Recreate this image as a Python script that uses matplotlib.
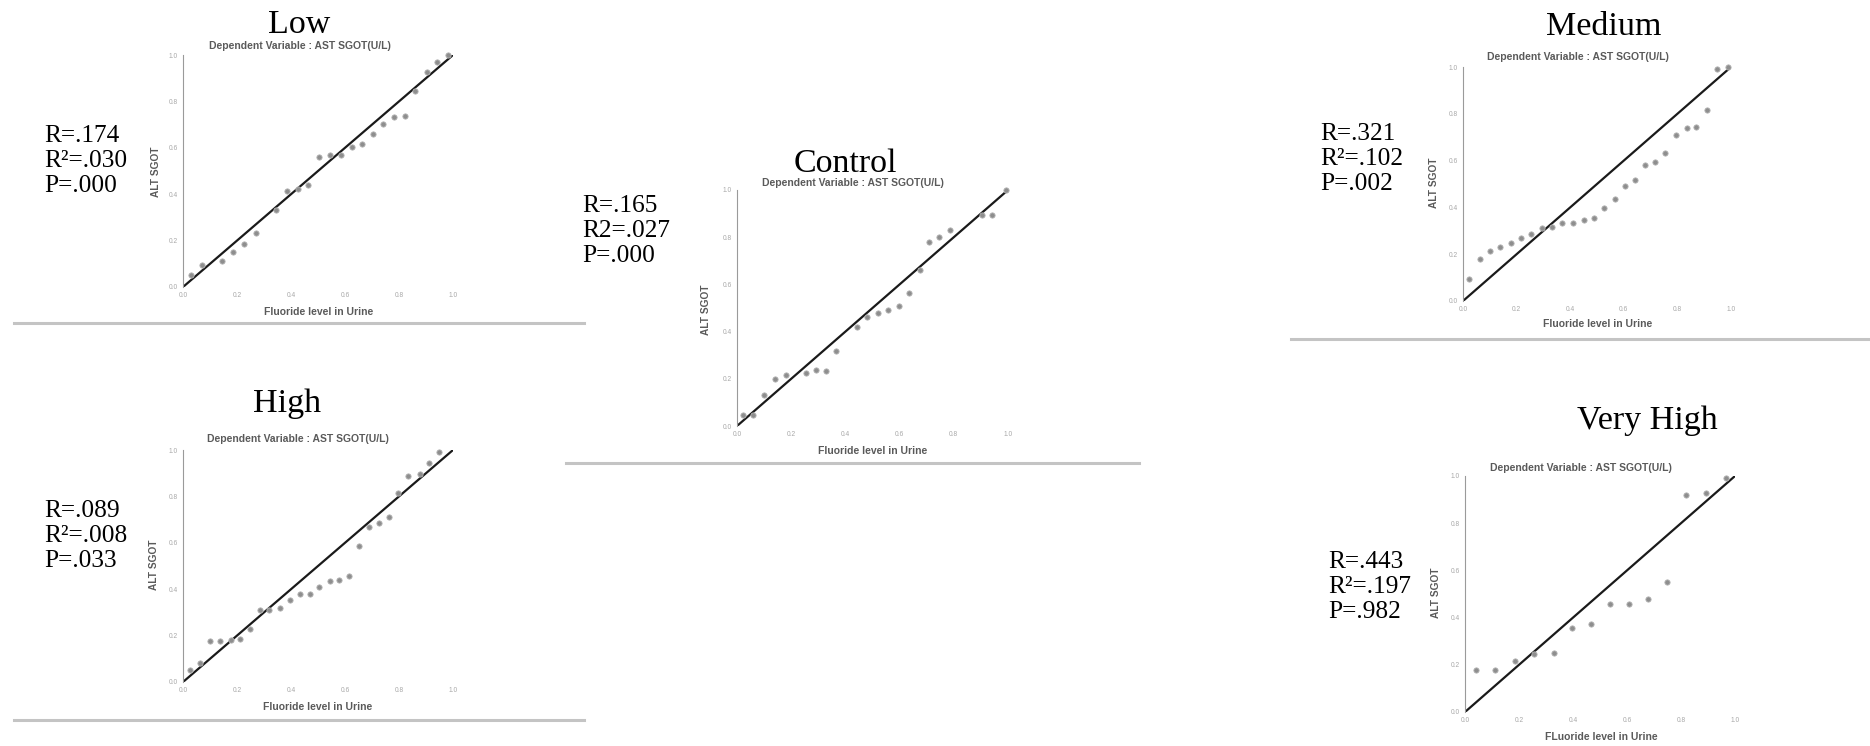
import matplotlib
matplotlib.use("Agg")
import matplotlib.pyplot as plt
from matplotlib.lines import Line2D

plt.rcParams['font.family'] = ['Liberation Serif', 'DejaVu Serif']

# ---------------------------------------------------------------- data
groups = ["Low", "High", "Control", "Medium", "Very High"]

# Normal P-P points (observed cum prob, expected cum prob) per fluoride group
low_obs = [0.028, 0.069, 0.143, 0.186, 0.227, 0.270, 0.344, 0.384, 0.427, 0.464,
           0.505, 0.544, 0.584, 0.625, 0.663, 0.703, 0.742, 0.783, 0.822, 0.860,
           0.903, 0.942, 0.981]
low_exp = [0.053, 0.093, 0.113, 0.151, 0.186, 0.232, 0.330, 0.412, 0.423, 0.440,
           0.560, 0.570, 0.570, 0.605, 0.616, 0.659, 0.703, 0.734, 0.737, 0.846,
           0.928, 0.971, 1.000]

high_obs = [0.027, 0.064, 0.101, 0.136, 0.176, 0.210, 0.247, 0.284, 0.318, 0.359,
            0.396, 0.433, 0.470, 0.504, 0.544, 0.578, 0.615, 0.653, 0.690, 0.727,
            0.764, 0.797, 0.832, 0.877, 0.910, 0.949]
high_exp = [0.050, 0.082, 0.176, 0.176, 0.180, 0.184, 0.230, 0.309, 0.309, 0.319,
            0.353, 0.381, 0.381, 0.410, 0.435, 0.439, 0.456, 0.586, 0.666, 0.684,
            0.710, 0.816, 0.888, 0.895, 0.943, 0.993]

control_obs = [0.022, 0.059, 0.100, 0.139, 0.179, 0.253, 0.291, 0.330, 0.367, 0.441,
               0.481, 0.519, 0.558, 0.598, 0.636, 0.675, 0.710, 0.747, 0.786, 0.904,
               0.942, 0.993]
control_exp = [0.045, 0.048, 0.130, 0.198, 0.218, 0.225, 0.236, 0.233, 0.318, 0.420,
               0.460, 0.480, 0.491, 0.509, 0.564, 0.663, 0.781, 0.802, 0.830, 0.894,
               0.894, 1.000]

medium_obs = [0.021, 0.062, 0.100, 0.138, 0.178, 0.215, 0.255, 0.293, 0.332, 0.371,
              0.410, 0.450, 0.489, 0.526, 0.566, 0.603, 0.641, 0.678, 0.715, 0.753,
              0.793, 0.834, 0.871, 0.910, 0.948, 0.989]
medium_exp = [0.094, 0.179, 0.213, 0.232, 0.249, 0.270, 0.285, 0.310, 0.317, 0.332,
              0.334, 0.346, 0.353, 0.396, 0.438, 0.492, 0.516, 0.580, 0.592, 0.633,
              0.708, 0.740, 0.744, 0.815, 0.990, 1.000]

veryhigh_obs = [0.041, 0.111, 0.185, 0.257, 0.329, 0.395, 0.467, 0.537, 0.606, 0.677,
                0.748, 0.819, 0.892, 0.965]
veryhigh_exp = [0.177, 0.180, 0.215, 0.246, 0.248, 0.354, 0.375, 0.458, 0.458, 0.477,
                0.552, 0.918, 0.927, 0.990]

r_labels = ["R=.174", "R=.089", "R=.165", "R=.321", "R=.443"]
r2_labels = ["R\u00b2=.030", "R\u00b2=.008", "R2=.027", "R\u00b2=.102", "R\u00b2=.197"]
p_labels = ["P=.000", "P=.033", "P=.000", "P=.002", "P=.982"]

x_titles = ["Fluoride level in Urine", "Fluoride level in Urine", "Fluoride level in Urine",
            "Fluoride level in Urine", "FLuoride level in Urine"]
y_title = "ALT SGOT"
chart_heading = "Dependent Variable : AST SGOT(U/L)"
tick_values = [0.0, 0.2, 0.4, 0.6, 0.8, 1.0]
tick_labels = ["0.0", "0.2", "0.4", "0.6", "0.8", "1.0"]

series = {
    "Low": (low_obs, low_exp),
    "High": (high_obs, high_exp),
    "Control": (control_obs, control_exp),
    "Medium": (medium_obs, medium_exp),
    "Very High": (veryhigh_obs, veryhigh_exp),
}

# ---------------------------------------------------------------- layout (pixels)
# title / stats positions are text baselines
W, H = 1870, 746
layout = {
    "Low":       dict(box=(183, 55, 453, 287), title=(299, 33), stats=(44, 142),
                      head=(300, 46), xlab=(319, 312), ylab=(156, 172),
                      sep=(14, 584, 323)),
    "High":      dict(box=(183, 450, 453, 682), title=(287, 412), stats=(44, 517),
                      head=(298, 439), xlab=(318, 707), ylab=(154, 565),
                      sep=(14, 584, 720)),
    "Control":   dict(box=(737, 190, 1008, 426), title=(845, 172), stats=(582, 212),
                      head=(853, 183), xlab=(873, 451), ylab=(706, 310),
                      sep=(566, 1139, 463)),
    "Medium":    dict(box=(1463, 67, 1731, 301), title=(1604, 35), stats=(1320, 140),
                      head=(1578, 57), xlab=(1598, 324), ylab=(1434, 183),
                      sep=(1291, 1870, 339)),
    "Very High": dict(box=(1465, 476, 1735, 712), title=(1647, 429), stats=(1328, 568),
                      head=(1581, 468), xlab=(1601, 737), ylab=(1436, 593),
                      sep=None),
}
line_step = 25


def fx(x):
    return x / W


def fy(y):
    return 1 - y / H


fig = plt.figure(figsize=(W / 100, H / 100), dpi=100)
fig.patch.set_facecolor("white")

sans = ["Liberation Sans", "DejaVu Sans"]
small_grey = "#5a5a5a"

for i, name in enumerate(groups):
    spec = layout[name]
    l, t, r, b = spec["box"]
    ax = fig.add_axes([fx(l), fy(b), (r - l) / W, (b - t) / H])
    obs, exp = series[name]

    ax.plot([0, 1], [0, 1], color="#1a1a1a", lw=1.6, solid_capstyle="butt", zorder=2)
    ax.plot(obs, exp, ls="none", marker="o", ms=3.8, mfc="#8e8e8e", mec="#b5b5b5",
            mew=0.6, zorder=3, clip_on=False)

    ax.set_xlim(0, 1)
    ax.set_ylim(0, 1)
    ax.set_xticks(tick_values)
    ax.set_xticklabels(tick_labels)
    ax.set_yticks(tick_values)
    ax.set_yticklabels(tick_labels)
    ax.tick_params(length=0, labelsize=4.8, labelcolor="#a8a8a8", pad=3.5)
    for lab in ax.get_xticklabels() + ax.get_yticklabels():
        lab.set_fontfamily(sans)
    for side in ("top", "right", "bottom"):
        ax.spines[side].set_visible(False)
    ax.spines["left"].set_color("#9a9a9a")
    ax.spines["left"].set_linewidth(0.8)
    ax.set_facecolor("none")

    # group heading and statistics
    tx, ty = spec["title"]
    fig.text(fx(tx), fy(ty), name, ha="center", va="baseline", fontsize=24.5,
             color="black")
    sx, sy = spec["stats"]
    for k, s in enumerate([r_labels[i], r2_labels[i], p_labels[i]]):
        fig.text(fx(sx), fy(sy + line_step * k), s, ha="left", va="baseline",
                 fontsize=18.3, color="black")

    hx, hy = spec["head"]
    fig.text(fx(hx), fy(hy), chart_heading, ha="center", va="center", fontsize=7.5,
             color=small_grey, family=sans, weight="bold")
    xx, xy = spec["xlab"]
    fig.text(fx(xx), fy(xy), x_titles[i], ha="center", va="center", fontsize=7.5,
             color=small_grey, family=sans, weight="bold")
    yx, yy = spec["ylab"]
    fig.text(fx(yx), fy(yy), y_title, ha="center", va="center", rotation=90,
             fontsize=7.3, color=small_grey, family=sans, weight="bold")

    if spec["sep"] is not None:
        x0, x1, ys = spec["sep"]
        fig.add_artist(Line2D([fx(x0), fx(x1)], [fy(ys), fy(ys)], color="#c4c4c4",
                              lw=2.2, transform=fig.transFigure))

fig.savefig("out.png", dpi=100, facecolor="white")
